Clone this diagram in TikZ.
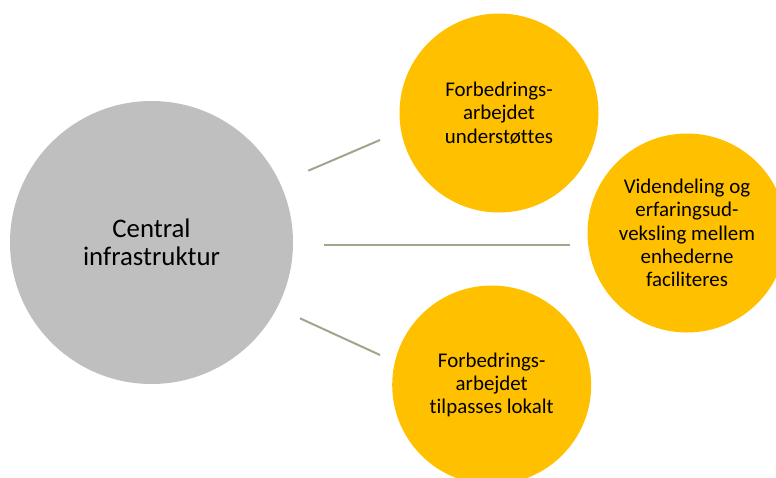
\documentclass[tikz,border=0pt]{standalone}
\usepackage{fontspec}
\setmainfont{Carlito}[Ligatures=NoCommon]
\definecolor{graycirc}{HTML}{BFBFBF}
\definecolor{yellowcirc}{HTML}{FFC000}
\definecolor{linkcol}{HTML}{A5A38C}
\begin{document}
\begin{tikzpicture}[x=1pt,y=-1pt,
  hub/.style={circle,fill=graycirc,draw=none,minimum size=283pt,inner sep=0pt,align=center,
    font=\fontsize{26.8}{28.3}\selectfont},
  leaf/.style={circle,fill=yellowcirc,draw=none,minimum size=199pt,inner sep=0pt,align=center,
    font=\fontsize{20.9}{23.3}\selectfont},
  link/.style={draw=linkcol,line width=2pt}]
\useasboundingbox (0,0) rectangle (776,477);
\begin{scope}
\clip (0,0) rectangle (776,477);
\node[hub] (hub) at (151.5,242.5) {Central\\infrastruktur};
\node[leaf] (top) at (499,113) {Forbedrings-\\arbejdet\\understøttes};
\node[leaf] (right) at (687,233) {Videndeling og\\erfaringsud-\\veksling mellem\\enhederne\\faciliteres};
\node[leaf] (bottom) at (491.7,385) {Forbedrings-\\arbejdet\\tilpasses lokalt};
\end{scope}
\coordinate (a1) at (308.3,170.7);
\coordinate (a2) at (380,140);
\coordinate (b1) at (324,244.5);
\coordinate (b2) at (570,244.5);
\coordinate (c1) at (300,318.3);
\coordinate (c2) at (380,355);
\draw[link] (a1) -- (a2);
\draw[link] (b1) -- (b2);
\draw[link] (c1) -- (c2);
\end{tikzpicture}
\end{document}
